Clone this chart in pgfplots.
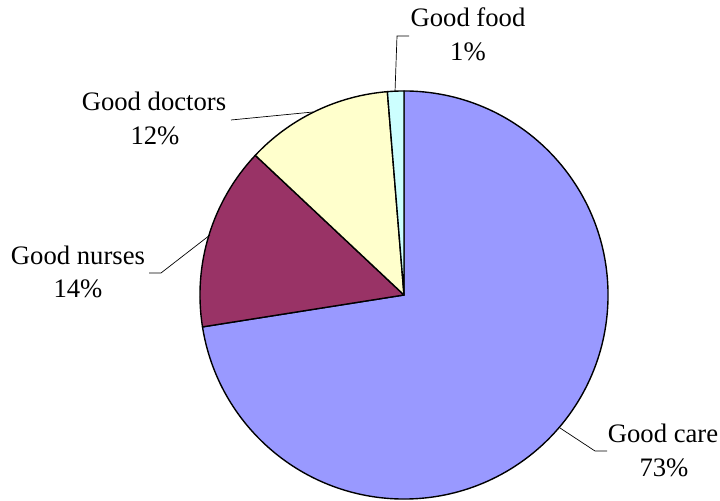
\documentclass[border=0pt]{standalone}
\usepackage{fontspec}
\setmainfont{Liberation Serif}
\usepackage{pgfplots}
\usepackage{pgfplotstable}
\pgfplotsset{compat=1.18}

\definecolor{pie0}{HTML}{9999FF}
\definecolor{pie1}{HTML}{993366}
\definecolor{pie2}{HTML}{FFFFCC}
\definecolor{pie3}{HTML}{CCFFFF}

% share of each slice, clockwise from 12 o'clock
\pgfplotstableread{
label   value
care    72.5
nurses  14.5
doctors 11.7
food    1.3
}\piedata

% start/end angle of every slice
\def\cum{0}
\pgfplotsforeachungrouped \i in {0,...,3}{%
  \pgfplotstablegetelem{\i}{value}\of\piedata
  \let\v\pgfplotsretval
  \pgfmathsetmacro\s{90-3.6*\cum}%
  \pgfmathsetmacro\e{\s-3.6*\v}%
  \expandafter\xdef\csname ps\i\endcsname{\s}%
  \expandafter\xdef\csname pe\i\endcsname{\e}%
  \pgfmathsetmacro\cum{\cum+\v}%
  \xdef\cum{\cum}%
}

\tikzset{lbl/.style={font=\fontsize{19.2}{22}\selectfont, inner sep=0pt, anchor=base}}

\begin{document}
\begin{tikzpicture}
\begin{axis}[
    anchor=origin, at={(0,0)},
    x=0.72pt, y=0.72pt,
    xmin=0, xmax=720, ymin=0, ymax=501,
    hide axis, clip=false,
]
\pgfplotsinvokeforeach{0,...,3}{
  \filldraw[fill=pie#1, draw=black, line width=1pt, line join=round]
    (axis cs:404,206) -- ++(canvas polar cs:angle=\csname ps#1\endcsname, radius=146.9pt)
    arc[start angle=\csname ps#1\endcsname, end angle=\csname pe#1\endcsname, radius=146.9pt] -- cycle;
}
% leader lines
\draw[line width=0.5pt] (axis cs:409,465) -- (axis cs:397,465) -- (axis cs:395,409);
\draw[line width=0.5pt] (axis cs:231,381) -- (axis cs:313,389);
\draw[line width=0.5pt] (axis cs:149,228) -- (axis cs:161,228) -- (axis cs:210,266);
\draw[line width=0.5pt] (axis cs:607,50) -- (axis cs:595,50) -- (axis cs:560,73);
% labels
\node[lbl] at (axis cs:468,474) {Good food};
\node[lbl] at (axis cs:468,440) {1\%};
\node[lbl] at (axis cs:154,390) {Good doctors};
\node[lbl] at (axis cs:155,356) {12\%};
\node[lbl] at (axis cs:78,236) {Good nurses};
\node[lbl] at (axis cs:78,203) {14\%};
\node[lbl] at (axis cs:663,58) {Good care};
\node[lbl] at (axis cs:664,24) {73\%};
\end{axis}
\pgfresetboundingbox
\path (0,0) rectangle (518.4pt,360.72pt);
\end{tikzpicture}
\end{document}
